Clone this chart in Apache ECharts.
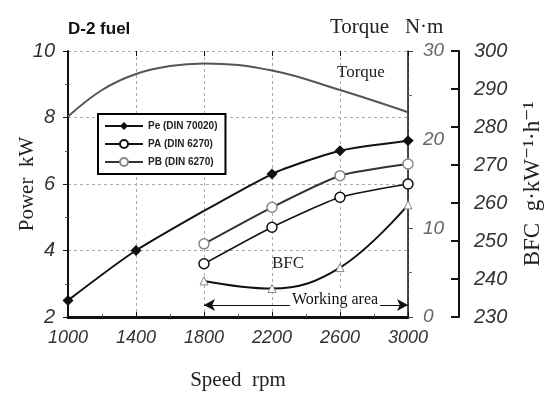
<!DOCTYPE html>
<html>
<head>
<meta charset="utf-8">
<script src="https://cdn.jsdelivr.net/npm/echarts@6/dist/echarts.min.js"></script>
<style>
  html, body { margin: 0; padding: 0; background: #fff; }
  #chart { width: 552px; height: 393px; }
</style>
</head>
<body>
<div id="chart"></div>
<script>
// engine speed (rpm)
const peSpeed = [1000, 1400, 2200, 2600, 3000];
const workSpeed = [1800, 2200, 2600, 3000];
const torqueSpeed = [1000, 1200, 1400, 1600, 1800, 2200, 2600, 3000];

// power (kW)
const pe = [2.5, 4.0, 6.3, 7.0, 7.3];
const pa = [3.6, 4.7, 5.6, 6.0];
const pb = [4.2, 5.3, 6.25, 6.6];

// torque (N·m)
const torque = [22.6, 25.6, 27.4, 28.3, 28.6, 27.8, 25.6, 23.1];

// brake fuel consumption (g/kWh)
const bfc = [239.5, 237.5, 243, 259.5];

// working area range
const workRange = [1800, 3000];

const pair = (xs, ys) => xs.map((x, i) => [x, ys[i]]);

const serif = '"Liberation Serif", "DejaVu Serif", serif';
const sans = '"Liberation Sans", Arial, sans-serif';

const chart = echarts.init(document.getElementById('chart'));

const dashed = { show: true, lineStyle: { color: '#aaa', type: [3, 3], width: 1 } };

chart.setOption({
  animation: false,
  grid: { left: 68, right: 144, top: 51, bottom: 76, containLabel: false, outerBoundsMode: 'none' },
  legend: {
    orient: 'vertical',
    left: 98,
    top: 114,
    padding: [7, 8, 7, 6],
    itemGap: 8,
    itemWidth: 38,
    itemHeight: 10,
    borderColor: '#000',
    borderWidth: 2,
    backgroundColor: '#fff',
    data: ['Pe (DIN 70020)', 'PA (DIN 6270)', 'PB (DIN 6270)'],
    textStyle: { fontFamily: sans, fontWeight: 'bold', fontSize: 10, color: '#222' },
  },
  graphic: [
    {
      type: 'text', left: 68, top: 21,
      style: { text: 'D-2 fuel', font: 'bold 17px "Liberation Sans Narrow", Arial, sans-serif', fill: '#111' },
    },
    {
      type: 'text', left: 330, top: 17,
      style: { text: 'Torque   N·m', font: '21px ' + serif, fill: '#222' },
    },
    {
      type: 'text', left: 337, top: 64,
      style: { text: 'Torque', font: '17px ' + serif, fill: '#222' },
    },
    {
      type: 'text', left: 272, top: 255,
      style: { text: 'BFC', font: '17px ' + serif, fill: '#222' },
    },
  ],
  xAxis: [
    {
      type: 'value',
      min: 1000,
      max: 3000,
      interval: 400,
      name: 'Speed  rpm',
      nameLocation: 'middle',
      nameGap: 53,
      nameTextStyle: { fontFamily: serif, fontSize: 21, color: '#222' },
      axisLine: { lineStyle: { color: '#111', width: 3 } },
      axisTick: { inside: true, length: 5, lineStyle: { color: '#111' } },
      minorTick: { show: true, splitNumber: 2, length: 3, lineStyle: { color: '#555' } },
      axisLabel: {
        fontFamily: sans, fontStyle: 'italic', fontSize: 18, color: '#333', margin: 12,
        formatter: (v) => String(v),
      },
      splitLine: dashed,
    },
    {
      type: 'value',
      position: 'top',
      min: 1000,
      max: 3000,
      interval: 400,
      axisLine: { show: false },
      axisTick: { inside: true, length: 5, lineStyle: { color: '#111' } },
      axisLabel: { show: false },
      splitLine: { show: false },
    },
  ],
  yAxis: [
    {
      type: 'value',
      min: 2,
      max: 10,
      interval: 2,
      name: 'Power  kW',
      nameLocation: 'middle',
      nameGap: 30,
      nameMoveOverlap: false,
      nameTextStyle: { fontFamily: serif, fontSize: 21, color: '#222' },
      axisLine: { show: true, lineStyle: { color: '#111', width: 2 } },
      axisTick: { show: true, length: 5, lineStyle: { color: '#111' } },
      minorTick: { show: true, splitNumber: 2, length: 3, lineStyle: { color: '#555' } },
      axisLabel: { fontFamily: sans, fontStyle: 'italic', fontSize: 20, color: '#333', margin: 13 },
      splitLine: dashed,
    },
    {
      type: 'value',
      position: 'right',
      min: 0,
      max: 30,
      interval: 10,
      axisLine: { show: true, lineStyle: { color: '#111', width: 1.5 } },
      axisTick: { show: true, length: 5, lineStyle: { color: '#444' } },
      minorTick: { show: true, splitNumber: 2, length: 4, lineStyle: { color: '#666' } },
      axisLabel: { fontFamily: sans, fontStyle: 'italic', fontSize: 19, color: '#666', margin: 15 },
      splitLine: { show: false },
    },
    {
      type: 'value',
      position: 'right',
      offset: 51,
      min: 230,
      max: 300,
      interval: 10,
      name: 'BFC  g·kW⁻¹·h⁻¹',
      nameLocation: 'middle',
      nameGap: 62,
      nameRotate: 90,
      nameTextStyle: { fontFamily: serif, fontSize: 23, color: '#222' },
      axisLine: { show: true, lineStyle: { color: '#111', width: 2 } },
      axisTick: { show: true, inside: true, length: 8, lineStyle: { color: '#111', width: 2 } },
      axisLabel: { fontFamily: sans, fontStyle: 'italic', fontSize: 20, color: '#333', margin: 15 },
      splitLine: { show: false },
    },
  ],
  series: [
    {
      name: 'Torque',
      type: 'line',
      yAxisIndex: 1,
      smooth: 0.4,
      showSymbol: false,
      lineStyle: { color: '#555', width: 2 },
      data: pair(torqueSpeed, torque),
    },
    {
      name: 'Pe (DIN 70020)',
      type: 'line',
      smooth: 0.2,
      symbol: 'diamond',
      symbolSize: 11,
      color: '#111',
      lineStyle: { color: '#111', width: 2 },
      itemStyle: { color: '#111' },
      data: pair(peSpeed, pe),
      markLine: {
        silent: true,
        symbol: ['arrow', 'arrow'],
        symbolSize: [9, 11],
        lineStyle: { color: '#111', width: 1, type: 'solid' },
        label: {
          show: true,
          position: 'middle',
          formatter: 'Working area',
          fontFamily: serif,
          fontSize: 16,
          color: '#111',
          backgroundColor: '#fff',
          padding: [0, 2],
          offset: [29, 8],
        },
        data: [[{ coord: [workRange[0], 2.36] }, { coord: [workRange[1], 2.36] }]],
      },
    },
    {
      name: 'PA (DIN 6270)',
      type: 'line',
      smooth: 0.2,
      symbol: 'circle',
      symbolSize: 10,
      color: '#111',
      lineStyle: { color: '#111', width: 1.5 },
      itemStyle: { color: '#fff', borderColor: '#111', borderWidth: 1.5 },
      data: pair(workSpeed, pa),
    },
    {
      name: 'PB (DIN 6270)',
      type: 'line',
      smooth: 0.2,
      symbol: 'circle',
      symbolSize: 10,
      color: '#333',
      lineStyle: { color: '#333', width: 2 },
      itemStyle: { color: '#fff', borderColor: '#888', borderWidth: 1.5 },
      data: pair(workSpeed, pb),
    },
    {
      name: 'BFC',
      type: 'line',
      yAxisIndex: 2,
      smooth: 0.4,
      symbol: 'triangle',
      symbolSize: 8,
      lineStyle: { color: '#111', width: 2 },
      itemStyle: { color: '#fff', borderColor: '#888', borderWidth: 1 },
      z: 1,
      data: pair(workSpeed, bfc),
    },
  ],
});
</script>
</body>
</html>
